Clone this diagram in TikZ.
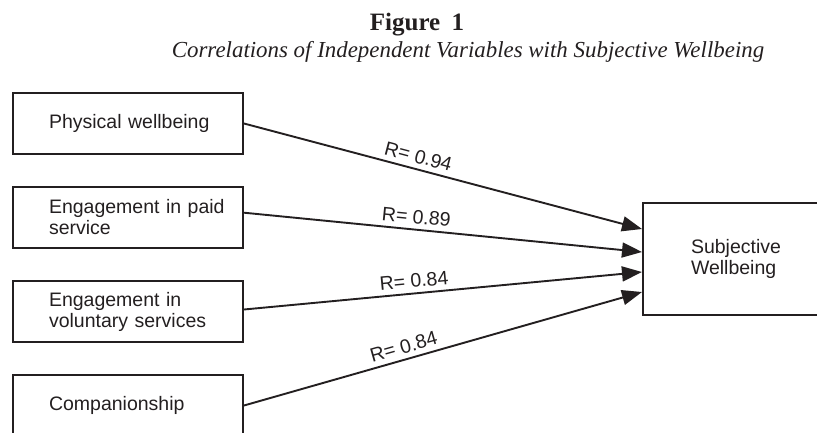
\documentclass[tikz,border=0pt]{standalone}
\usepackage{fontspec}
\setmainfont{Liberation Sans}
\newfontfamily\titleserif{Liberation Serif}
\usetikzlibrary{arrows.meta}
\hfuzz=200pt \hbadness=10000
\hyphenpenalty=10000 \exhyphenpenalty=10000
\definecolor{ink}{HTML}{231F20}
\begin{document}
\begin{tikzpicture}[x=1pt,y=1pt,
  varbox/.style={draw=ink, line width=2pt, minimum width=230pt, minimum height=61pt,
    text width=158pt, inner xsep=0pt, inner ysep=0pt, align=left, anchor=north west,
    font=\fontsize{19.5}{21}\selectfont, text=ink},
  outbox/.style={draw=ink, line width=2pt, minimum width=200pt, minimum height=112pt,
    text width=104pt, inner xsep=0pt, inner ysep=0pt, align=left, anchor=north west,
    font=\fontsize{19.5}{21}\selectfont, text=ink},
  arr/.style={draw=ink, line width=1.9pt, -{Triangle[length=20pt,width=15pt]}},
  rlabel/.style={sloped, above, inner sep=5pt, font=\fontsize{19.5}{21}\selectfont, text=ink}
]
\useasboundingbox (0,0) rectangle (817,-432);
\clip (0,0) rectangle (817,-432);

\node[anchor=base, font=\titleserif\bfseries\fontsize{25}{28}\selectfont, text=ink] (ttl) at (417,-30) {Figure\hspace{0.45em}1};
\node[anchor=base, font=\titleserif\itshape\fontsize{22.9}{26}\selectfont, text=ink] (sub) at (468,-57) {Correlations of Independent Variables with Subjective Wellbeing};

\node[varbox] (b1) at (12,-92) {\mbox{Physical wellbeing}};
\node[varbox] (b2) at (12,-186) {\mbox{Engagement in paid}\\\mbox{service}};
\node[varbox] (b3) at (12,-280) {\mbox{Engagement in}\\\mbox{voluntary services}};
\node[varbox] (b4) at (12,-374) {\mbox{Companionship}};
\node[outbox] (sw) at (642,-202) {\mbox{Subjective}\\\mbox{Wellbeing}};

\draw[arr] (b1.east) -- node[rlabel, pos=0.43] (l1) {R= 0.94} ([yshift=30pt]sw.west);
\draw[arr] ([yshift=4.8pt]b2.east) -- node[rlabel, pos=0.43] (l2) {R= 0.89} ([yshift=7pt]sw.west);
\draw[arr] ([yshift=2pt]b3.east) -- node[rlabel, pos=0.43] (l3) {R= 0.84} ([yshift=-13pt]sw.west);
\draw[arr] (b4.east) -- node[rlabel, pos=0.41] (l4) {R= 0.84} ([yshift=-33pt]sw.west);
\end{tikzpicture}
\end{document}
